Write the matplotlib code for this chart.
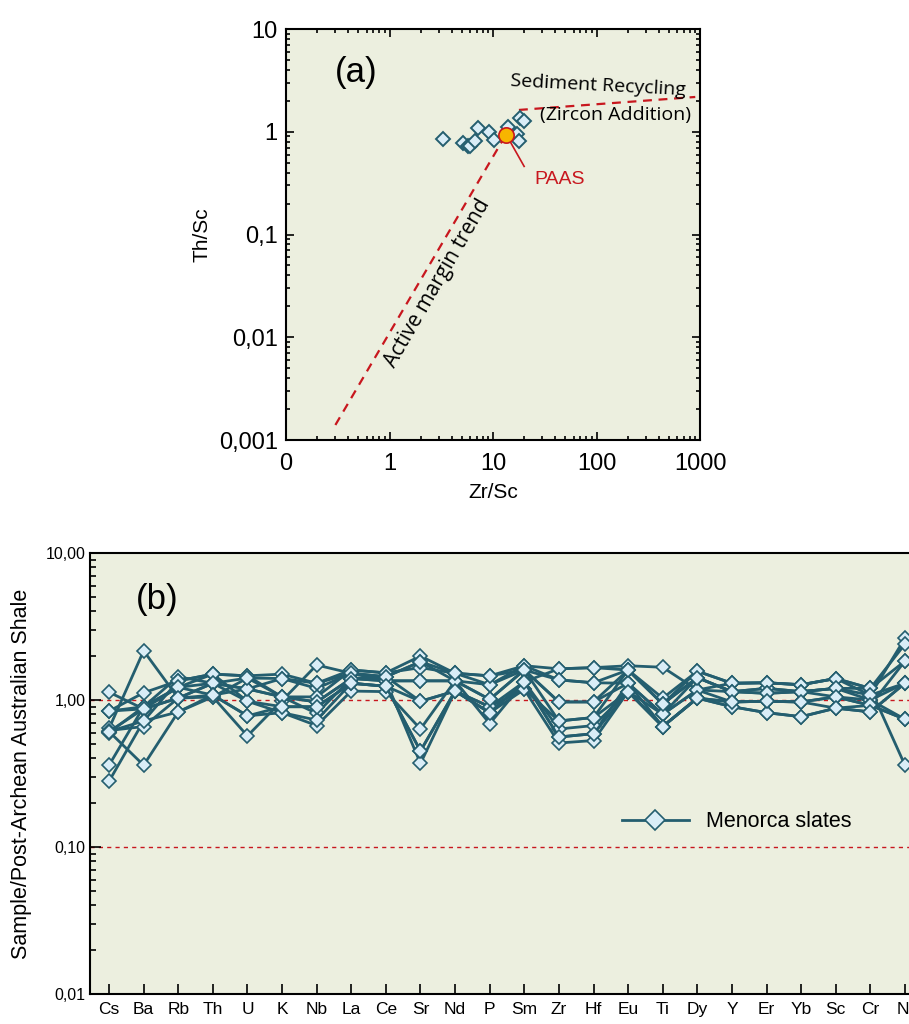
import matplotlib
matplotlib.use("Agg")
import matplotlib.pyplot as plt
import numpy as np
from matplotlib.ticker import LogLocator, FixedLocator, NullFormatter, FixedFormatter

# ---------------- data: panel (a) ----------------
zr_sc = [3.31, 5.16, 5.77, 6.0, 6.70, 7.11, 9.2, 10.2, 14.1, 17.2, 17.8, 18.2, 19.9]
th_sc = [0.85, 0.77, 0.73, 0.72, 0.81, 1.08, 0.99, 0.84, 1.12, 0.95, 0.81, 1.35, 1.27]
paas_zr_sc = [13.4]
paas_th_sc = [0.94]
active_margin_x = [0.30, 13.2]
active_margin_y = [0.0014, 0.92]
recycling_x = [17.8, 900]
recycling_y = [1.63, 2.18]
a_xticks = [0.1, 1, 10, 100, 1000]
a_xticklabels = ["0", "1", "10", "100", "1000"]
a_yticks = [0.001, 0.01, 0.1, 1, 10]
a_yticklabels = ["0,001", "0,01", "0,1", "1", "10"]

# ---------------- data: panel (b) ----------------
elements = ["Cs", "Ba", "Rb", "Th", "U", "K", "Nb", "La", "Ce", "Sr", "Nd", "P",
            "Sm", "Zr", "Hf", "Eu", "Ti", "Dy", "Y", "Er", "Yb", "Sc", "Cr", "Ni"]
s01 = [0.64, 2.16, 1.03, 1.30, 1.19, 1.05, 0.97, 1.40, 1.35, 1.35, 1.35, 1.01, 1.60, 0.97, 0.97, 1.60, 0.94, 1.42, 1.14, 1.20, 1.14, 1.20, 1.00, 1.30]
s02 = [0.61, 0.36, 0.83, 1.05, 0.57, 0.99, 1.73, 1.52, 1.44, 0.98, 1.15, 0.82, 1.33, 1.63, 1.66, 1.71, 1.67, 1.17, 1.30, 1.31, 1.27, 1.40, 1.20, 0.36]
s03 = [1.13, 0.87, 1.22, 1.50, 1.46, 1.50, 1.30, 1.60, 1.53, 1.99, 1.52, 1.46, 1.71, 1.63, 1.66, 1.60, 1.03, 1.57, 1.30, 1.31, 1.27, 1.40, 1.08, 2.63]
s04 = [0.84, 0.90, 1.44, 1.30, 1.41, 1.40, 1.20, 1.52, 1.44, 1.82, 1.35, 1.27, 1.60, 1.37, 1.31, 1.30, 0.80, 1.42, 1.14, 1.20, 1.14, 1.20, 1.20, 2.40]
s05 = [0.28, 0.72, 1.35, 1.50, 0.98, 0.90, 0.90, 1.30, 1.24, 0.45, 1.15, 0.90, 1.33, 0.56, 0.59, 1.30, 0.66, 1.03, 0.97, 0.98, 0.97, 1.05, 0.92, 1.84]
s06 = [0.36, 0.90, 1.22, 1.30, 1.19, 1.05, 0.81, 1.40, 1.35, 0.37, 1.15, 0.82, 1.18, 0.51, 0.53, 1.14, 0.66, 1.03, 0.90, 0.82, 0.77, 0.88, 0.83, 1.30]
s07 = [0.62, 0.66, 1.03, 1.08, 0.78, 0.82, 0.67, 1.15, 1.14, 0.635, 1.35, 0.69, 1.33, 0.635, 0.67, 1.14, 0.80, 1.17, 0.97, 0.98, 0.97, 1.05, 1.00, 0.74]
s08 = [0.84, 1.12, 1.35, 1.50, 1.46, 1.05, 1.05, 1.60, 1.53, 1.66, 1.52, 1.27, 1.71, 1.37, 1.31, 1.60, 0.94, 1.57, 1.30, 1.31, 1.27, 1.40, 1.20, 1.84]
s09 = [0.61, 0.87, 1.03, 1.30, 0.98, 0.82, 0.73, 1.30, 1.24, 0.98, 1.15, 0.90, 1.18, 0.72, 0.76, 1.14, 0.66, 1.03, 0.90, 0.82, 0.77, 0.88, 0.92, 0.74]
s10 = [0.60, 0.90, 1.22, 1.08, 1.19, 1.40, 1.30, 1.52, 1.35, 1.35, 1.35, 1.01, 1.60, 0.97, 0.97, 1.30, 0.80, 1.17, 1.14, 1.11, 1.14, 1.20, 1.08, 1.30]
s11 = [0.84, 0.87, 1.03, 1.05, 1.41, 1.05, 0.97, 1.40, 1.44, 1.82, 1.52, 1.46, 1.60, 0.72, 0.76, 1.60, 0.94, 1.42, 1.14, 1.11, 1.14, 1.05, 0.92, 0.74]
s12 = [0.61, 0.72, 0.83, 1.08, 0.78, 0.90, 0.90, 1.30, 1.24, 0.45, 1.15, 0.82, 1.33, 0.56, 0.59, 1.14, 0.66, 1.03, 0.97, 0.98, 0.97, 0.88, 0.83, 1.30]
samples = [s01, s02, s03, s04, s05, s06, s07, s08, s09, s10, s11, s12]
b_yticks = [0.01, 0.1, 1, 10]
b_yticklabels = ["0,01", "0,10", "1,00", "10,00"]
ref_levels = [1.0, 0.1]

# ---------------- style ----------------
BG = "#ecefdf"
TEAL = "#245e6f"
FACE = "#d9edf7"
RED = "#c8171e"
SANS = ["Liberation Sans", "DejaVu Sans"]
ANNO = ["Open Sans", "DejaVu Sans"]

plt.rcParams['font.family'] = SANS

fig = plt.figure(figsize=(9.09, 10.24), dpi=100)

# ================= panel (a) =================
axa = fig.add_axes([286/909, 1-440/1024, 414/909, 411/1024])
axa.set_facecolor(BG)
axa.set_xscale("log")
axa.set_yscale("log")
axa.set_xlim(0.1, 1000)
axa.set_ylim(0.001, 10)

axa.plot(active_margin_x, active_margin_y, ls=(0, (4, 3)), color=RED, lw=1.6, zorder=2)
axa.plot(recycling_x, recycling_y, ls=(0, (4, 3)), color=RED, lw=1.6, zorder=2)
axa.plot(zr_sc, th_sc, ls="none", marker="D", ms=7.5, mfc=FACE, mec=TEAL, mew=1.4, zorder=3)
axa.plot(paas_zr_sc, paas_th_sc, ls="none", marker="o", ms=11, mfc="#f7b500",
         mec=RED, mew=1.2, zorder=4)
axa.plot([paas_zr_sc[0], 20], [paas_th_sc[0], 0.46], color=RED, lw=1.2, zorder=3)

axa.text(0.17, 0.893, "(a)", transform=axa.transAxes, fontsize=25, ha="center", va="center")
axa.text(0.754, 0.862, "Sediment Recycling", transform=axa.transAxes, fontsize=14,
         family=ANNO, ha="center", va="center", rotation=-3)
axa.text(0.795, 0.79, "(Zircon Addition)", transform=axa.transAxes, fontsize=14,
         family=ANNO, ha="center", va="center")
axa.text(0.365, 0.382, "Active margin trend", transform=axa.transAxes, fontsize=15,
         family=ANNO, ha="center", va="center", rotation=60)
axa.text(0.66, 0.634, "PAAS", transform=axa.transAxes, fontsize=14, color=RED,
         ha="center", va="center")

axa.xaxis.set_major_locator(FixedLocator(a_xticks))
axa.xaxis.set_major_formatter(FixedFormatter(a_xticklabels))
axa.yaxis.set_major_locator(FixedLocator(a_yticks))
axa.yaxis.set_major_formatter(FixedFormatter(a_yticklabels))
axa.xaxis.set_minor_locator(LogLocator(base=10, subs=np.arange(2, 10), numticks=20))
axa.yaxis.set_minor_locator(LogLocator(base=10, subs=np.arange(2, 10), numticks=20))
axa.xaxis.set_minor_formatter(NullFormatter())
axa.yaxis.set_minor_formatter(NullFormatter())
axa.tick_params(which="both", direction="in", top=True, right=True, width=1.2, color="black")
axa.tick_params(which="major", length=6, labelsize=17, pad=6)
axa.tick_params(axis="x", which="major", pad=9)
axa.tick_params(which="minor", length=3)
for s in axa.spines.values():
    s.set_linewidth(1.5)
axa.set_xlabel("Zr/Sc", fontsize=15, labelpad=6)
axa.set_ylabel("Th/Sc", fontsize=15, labelpad=5)

# ================= panel (b) =================
xpos = np.arange(len(elements))
axb = fig.add_axes([90/909, 1-994/1024, 834/909, 441/1024])
axb.set_facecolor(BG)
axb.set_yscale("log")
axb.set_ylim(0.01, 10)
axb.set_xlim(-0.55, len(elements) - 1 + 0.55)

for lvl in ref_levels:
    axb.axhline(lvl, color=RED, ls=(0, (3, 3)), lw=1.0, zorder=1)

for i, s in enumerate(samples):
    axb.plot(xpos, s, color=TEAL, lw=2.0, marker="D", ms=7.3, mfc=FACE, mec=TEAL,
             mew=1.2, zorder=2, label="Menorca slates" if i == 0 else None)

axb.set_xticks(xpos)
axb.set_xticklabels(elements, fontsize=12.5)
axb.yaxis.set_major_locator(FixedLocator(b_yticks))
axb.yaxis.set_major_formatter(FixedFormatter(b_yticklabels))
axb.yaxis.set_minor_locator(LogLocator(base=10, subs=np.arange(2, 10), numticks=20))
axb.yaxis.set_minor_formatter(NullFormatter())
axb.tick_params(which="both", direction="in", width=1.2, color="black")
axb.tick_params(axis="y", which="major", length=8, pad=3, labelsize=11.5)
axb.tick_params(axis="y", which="minor", length=4)
axb.tick_params(axis="x", which="major", length=7, pad=6)
for s in axb.spines.values():
    s.set_linewidth(1.5)
axb.set_ylabel("Sample/Post-Archean Australian Shale", fontsize=15.5, labelpad=10)

axb.text(0.08, 0.895, "(b)", transform=axb.transAxes, fontsize=25, ha="center", va="center")
leg = axb.legend(loc="center left", bbox_to_anchor=(0.638, 0.391), frameon=False,
                 fontsize=15.5, handlelength=3.1, handletextpad=0.8,
                 borderpad=0, borderaxespad=0, markerscale=1.35)

fig.savefig("out.png", dpi=100, facecolor="white")
